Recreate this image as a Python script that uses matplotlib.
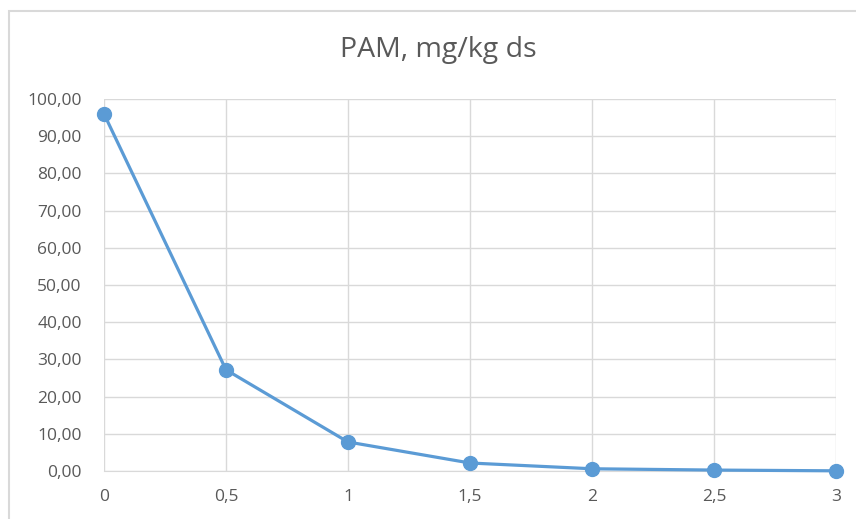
import matplotlib.pyplot as plt
from matplotlib.patches import Rectangle
from matplotlib.ticker import FuncFormatter

x_vals = [0, 0.5, 1, 1.5, 2, 2.5, 3]
pam = [96.0, 27.2, 7.8, 2.15, 0.6, 0.25, 0.05]
x_ticks = [0, 0.5, 1, 1.5, 2, 2.5, 3]
y_ticks = [0, 10, 20, 30, 40, 50, 60, 70, 80, 90, 100]

plt.rcParams['font.family'] = ['Open Sans', 'DejaVu Sans']
txt = '#595959'
grid = '#d9d9d9'
blue = '#5b9bd5'

fig = plt.figure(figsize=(8.56, 5.19), dpi=100)
ax = fig.add_axes([104/856, 48/519, (836-104)/856, (471-99)/519])

ax.plot(x_vals, pam, color=blue, lw=2.3, marker='o', ms=10, clip_on=False, zorder=3)

ax.set_xlim(0, 3)
ax.set_ylim(0, 100)
ax.set_xticks(x_ticks)
ax.set_yticks(y_ticks)
ax.xaxis.set_major_formatter(FuncFormatter(lambda v, p: ('%g' % v).replace('.', ',')))
ax.yaxis.set_major_formatter(FuncFormatter(lambda v, p: ('%.2f' % v).replace('.', ',')))
ax.grid(True, color=grid, lw=1)
ax.set_axisbelow(True)
for s in ['left', 'right', 'top']:
    ax.spines[s].set_visible(False)
ax.spines['bottom'].set_color(grid)
ax.tick_params(length=0, labelsize=12.5, colors=txt)
ax.tick_params(axis='y', pad=16)
ax.tick_params(axis='x', pad=13)

fig.text(438/856, (519-50)/519, 'PAM, mg/kg ds', ha='center', va='center', fontsize=20.5, color=txt)

# chart border
fig.patches.append(Rectangle((9/856, -0.1), 1.2, (519-11)/519 + 0.1, transform=fig.transFigure,
                             fill=False, edgecolor=grid, lw=1.5))

fig.savefig('out.png', dpi=100)
